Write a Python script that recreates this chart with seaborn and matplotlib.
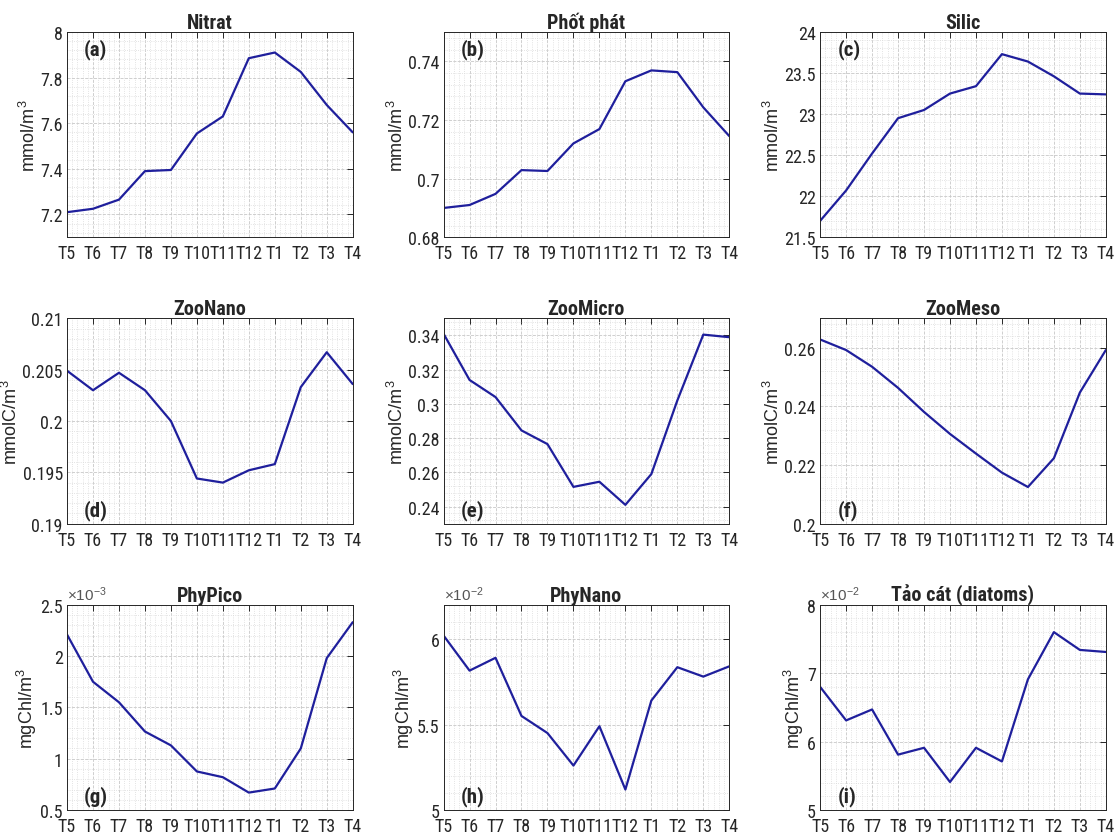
import numpy as np
import pandas as pd
import matplotlib
matplotlib.use("Agg")
import matplotlib.pyplot as plt
from matplotlib import font_manager
from matplotlib.ticker import AutoMinorLocator, FuncFormatter
import seaborn as sns

# Months, from May to April
months = ["T5", "T6", "T7", "T8", "T9", "T10", "T11", "T12", "T1", "T2", "T3", "T4"]

nitrat = [7.21, 7.225, 7.265, 7.39, 7.395, 7.555, 7.63, 7.885, 7.91, 7.825, 7.68, 7.56]
photphat = [0.690, 0.691, 0.6948, 0.7029, 0.7026, 0.712, 0.7169, 0.7332, 0.7369, 0.7363, 0.7243, 0.7145]
silic = [21.70, 22.07, 22.52, 22.95, 23.05, 23.25, 23.34, 23.73, 23.64, 23.46, 23.25, 23.24]
zoo_nano = [0.2049, 0.2030, 0.2047, 0.2030, 0.2000, 0.1944, 0.1940, 0.1952, 0.1958, 0.2033, 0.2067, 0.2036]
zoo_micro = [0.341, 0.314, 0.304, 0.2845, 0.2765, 0.2515, 0.2545, 0.241, 0.259, 0.302, 0.3405, 0.339]
zoo_meso = [0.2628, 0.2592, 0.2535, 0.2463, 0.2381, 0.2306, 0.2239, 0.2174, 0.2125, 0.2223, 0.2447, 0.2592]
# phytoplankton values as shown on the axes (x10^-3 and x10^-2)
phy_pico = [2.21, 1.75, 1.55, 1.265, 1.13, 0.876, 0.82, 0.67, 0.71, 1.10, 1.98, 2.33]
phy_nano = [6.02, 5.815, 5.89, 5.55, 5.45, 5.26, 5.49, 5.12, 5.64, 5.835, 5.78, 5.84]
diatoms = [6.80, 6.31, 6.47, 5.81, 5.91, 5.41, 5.91, 5.71, 6.91, 7.60, 7.34, 7.31]

panels = [
    ("Nitrat", "mmol/m$^3$", nitrat, (7.1, 8), np.arange(7.2, 8.01, 0.2), "(a)", None),
    ("Phốt phát", "mmol/m$^3$", photphat, (0.68, 0.75), np.arange(0.68, 0.741, 0.02), "(b)", None),
    ("Silic", "mmol/m$^3$", silic, (21.5, 24), np.arange(21.5, 24.01, 0.5), "(c)", None),
    ("ZooNano", "mmolC/m$^3$", zoo_nano, (0.19, 0.21), np.arange(0.19, 0.2101, 0.005), "(d)", None),
    ("ZooMicro", "mmolC/m$^3$", zoo_micro, (0.23, 0.35), np.arange(0.24, 0.341, 0.02), "(e)", None),
    ("ZooMeso", "mmolC/m$^3$", zoo_meso, (0.2, 0.27), np.arange(0.2, 0.261, 0.02), "(f)", None),
    ("PhyPico", "mgChl/m$^3$", phy_pico, (0.5, 2.5), np.arange(0.5, 2.51, 0.5), "(g)", "-3"),
    ("PhyNano", "mgChl/m$^3$", phy_nano, (5, 6.2), np.arange(5, 6.01, 0.5), "(h)", "-2"),
    ("Tảo cát (diatoms)", "mgChl/m$^3$", diatoms, (5, 8), np.arange(5, 8.01, 1), "(i)", "-2"),
]

# the original uses a narrow Helvetica; pick a narrow face, preferring one with a bold weight
faces = font_manager.fontManager.ttflist
narrow_names = sorted({f.name for f in faces if "Narrow" in f.name or "Condensed" in f.name})
preferred = ["Liberation Sans Narrow", "Roboto Condensed", "DejaVu Sans Condensed", "Open Sans Condensed"]
narrow_names.sort(key=lambda n: preferred.index(n) if n in preferred else 99)


def has_bold(name):
    return any(f.name == name and (f.weight in ("bold", "semibold", "heavy", "black") or
                                   (isinstance(f.weight, int) and f.weight >= 600)) for f in faces)


body_family = narrow_names[:1]
bold_family = [n for n in narrow_names if has_bold(n)][:1]

sns.set_theme(style="white")
plt.rcParams["font.family"] = body_family + ["Liberation Sans", "DejaVu Sans"]
plt.rcParams["mathtext.fontset"] = "custom"
plt.rcParams["mathtext.rm"] = "Liberation Sans"
plt.rcParams["mathtext.it"] = "Liberation Sans"
title_family = bold_family + ["Liberation Sans", "DejaVu Sans"]

tick_size = 13 if body_family else 10.5

fig, axes = plt.subplots(3, 3, figsize=(11.17, 8.37), dpi=100)
fig.subplots_adjust(left=0.06, right=0.99, top=0.9606, bottom=0.031, wspace=0.318, hspace=0.395)

line_color = "#1f1f9c"
fmt = FuncFormatter(lambda v, p: f"{round(v, 6):g}")

for i, (ax, (title, ylabel, vals, ylim, yticks, tag, expo)) in enumerate(zip(axes.flat, panels)):
    df = pd.DataFrame({"Month": months, "Value": vals})
    sns.lineplot(data=df, x="Month", y="Value", ax=ax, color=line_color, linewidth=1.6, sort=False)

    ax.set_xlim(0, len(months) - 1)
    ax.set_ylim(*ylim)
    ax.set_yticks(yticks)
    ax.yaxis.set_major_formatter(fmt)
    ax.xaxis.set_minor_locator(AutoMinorLocator(5))
    ax.yaxis.set_minor_locator(AutoMinorLocator(5))

    ax.grid(True, which="major", color="#c8c8c8", linestyle="--", linewidth=0.6)
    ax.grid(True, which="minor", color="#dadada", linestyle=":", linewidth=0.6)
    ax.set_axisbelow(True)

    ax.tick_params(which="major", direction="in", length=4, width=0.7, top=True, right=True,
                   labelsize=tick_size, colors="#262626")
    ax.tick_params(axis="x", which="major", pad=5)
    ax.tick_params(axis="y", which="major", pad=3)
    ax.tick_params(which="minor", length=0)
    for sp in ax.spines.values():
        sp.set_color("#262626")
        sp.set_linewidth(0.7)

    ax.set_title(title, fontsize=14.5, fontweight="bold", family=title_family, pad=3)
    ax.set_xlabel("")
    ax.set_ylabel(ylabel, fontsize=13, family=["Liberation Sans", "DejaVu Sans"], labelpad=1)

    ty = 0.92 if i < 3 else 0.07
    ax.text(0.06, ty, tag, transform=ax.transAxes, fontsize=15, fontweight="bold",
            family=title_family, ha="left", va="center")

    if expo is not None:
        ax.text(0.0, 1.01, r"$\times10^{" + expo + "}$", transform=ax.transAxes,
                fontsize=11, color="#555555", ha="left", va="bottom")

fig.savefig("out.png", dpi=100)
